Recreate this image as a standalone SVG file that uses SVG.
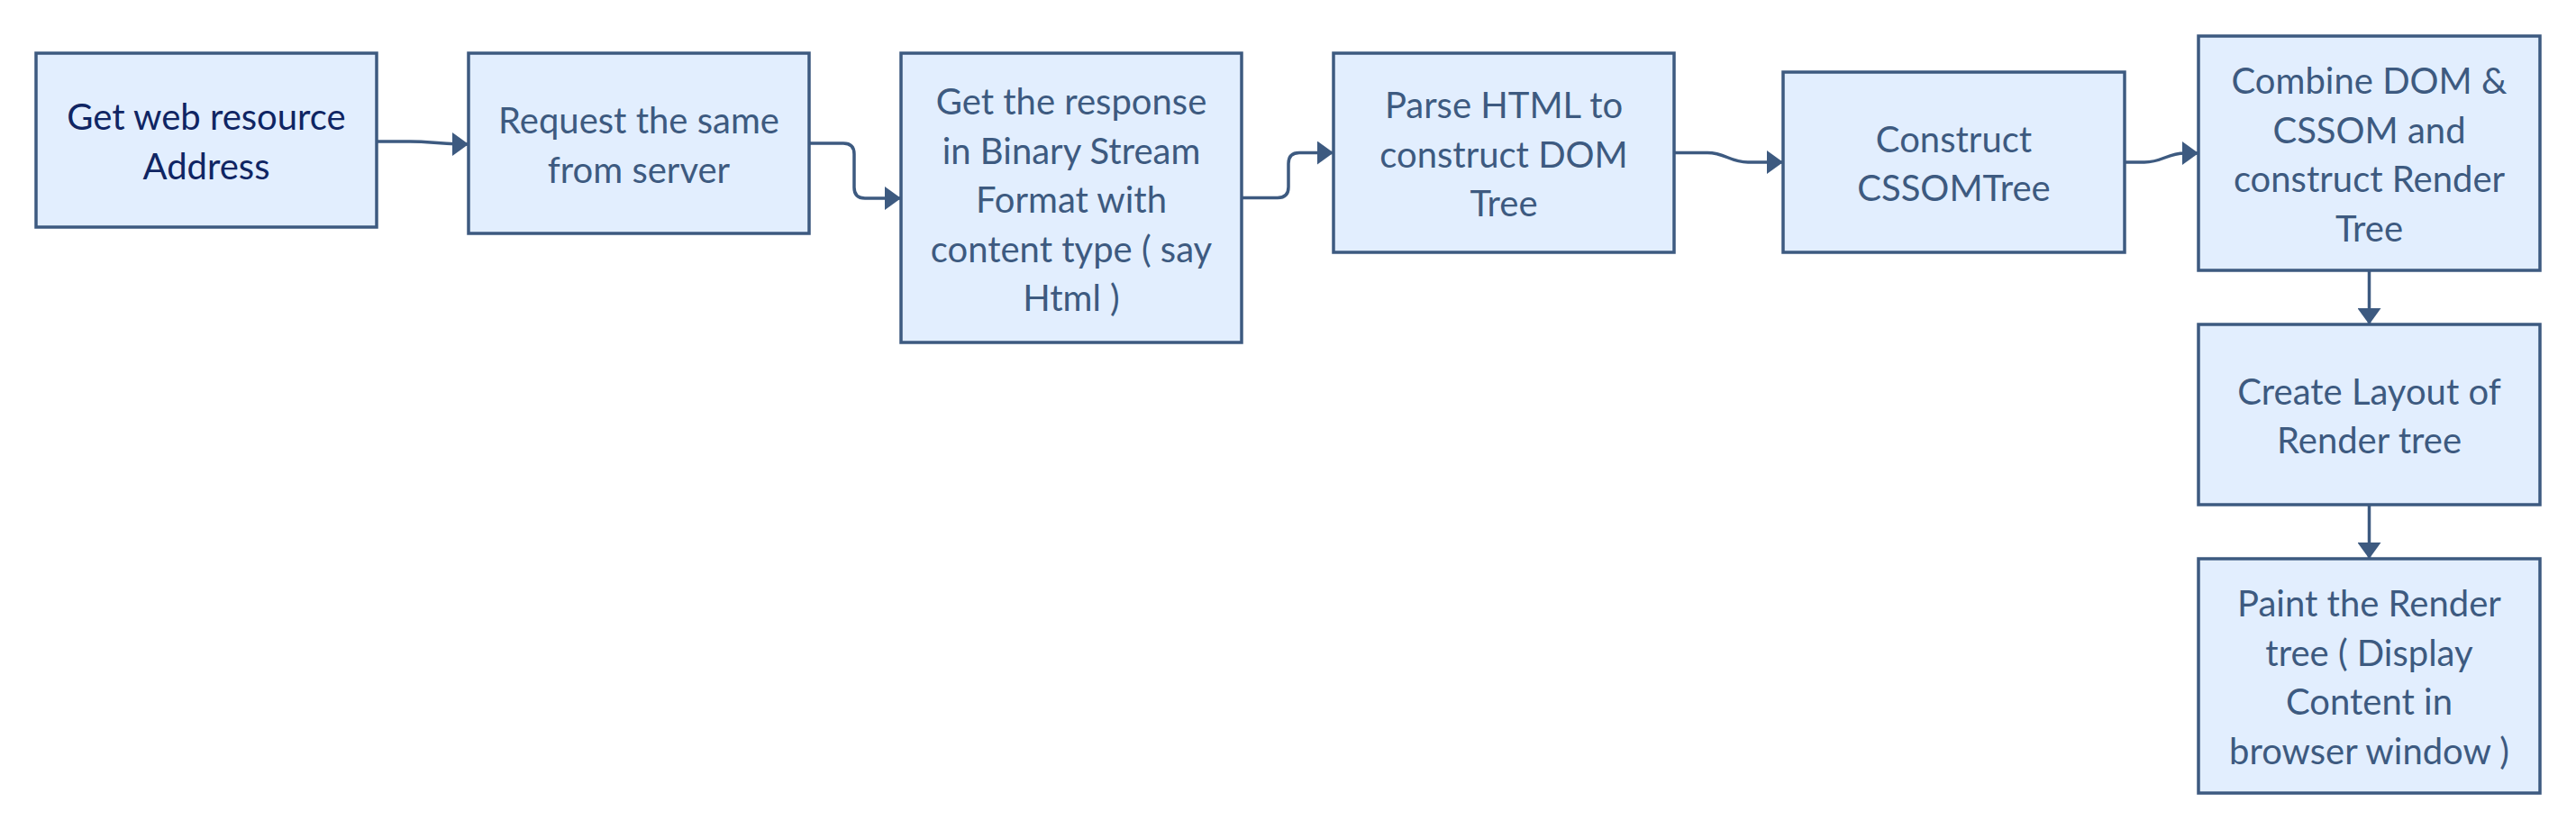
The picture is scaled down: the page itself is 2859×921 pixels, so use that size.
<svg xmlns="http://www.w3.org/2000/svg" width="2859" height="921" viewBox="0 0 2859 921">
<style>
.box{fill:#e2eefe;stroke:#3d5a80;stroke-width:3.5}
.t{font-family:Lato,"Open Sans","Liberation Sans",sans-serif;font-size:40px;fill:#3d5a80;text-anchor:middle}
.dark{fill:#0f2563}
.c{fill:none;stroke:#3d5a80;stroke-width:3.5}
</style>
<defs>
<marker id="arr" markerUnits="userSpaceOnUse" viewBox="0 0 18 26" refX="18" refY="13" markerWidth="18" markerHeight="26" orient="auto">
<path d="M0,0 L18,13 L0,26 z" fill="#3d5a80"/>
</marker>
</defs>
<rect width="2859" height="921" fill="#ffffff"/>
<g id="connectors">
<path class="c" marker-end="url(#arr)" d="M418,157 H455 C480,157 485,160 520,160"/>
<path class="c" marker-end="url(#arr)" d="M898,159 H936 Q948,159 948,171 V208 Q948,220 960,220 H1000"/>
<path class="c" marker-end="url(#arr)" d="M1378,219.5 H1418 Q1430,219.5 1430,207.5 V181.5 Q1430,169.5 1442,169.5 H1480"/>
<path class="c" marker-end="url(#arr)" d="M1858,169.5 H1895 C1915,169.5 1920,180 1940,180 H1979"/>
<path class="c" marker-end="url(#arr)" d="M2358,180 H2380 C2400,180 2405,170 2425,170 H2440"/>
<path class="c" marker-end="url(#arr)" d="M2629.5,300 V360"/>
<path class="c" marker-end="url(#arr)" d="M2629.5,560 V620"/>
</g>
<g id="n1">
<rect class="box" x="40" y="59" width="378" height="193"/>
<text class="t dark" x="229" y="144">Get web resource</text>
<text class="t dark" x="229" y="198.5">Address</text>
</g>
<g id="n2">
<rect class="box" x="520" y="59" width="378" height="200"/>
<text class="t" x="709" y="148">Request the same</text>
<text class="t" x="709" y="202.5">from server</text>
</g>
<g id="n3">
<rect class="box" x="1000" y="59" width="378" height="321"/>
<text class="t" x="1189" y="127">Get the response</text>
<text class="t" x="1189" y="181.5">in Binary Stream</text>
<text class="t" x="1189" y="236">Format with</text>
<text class="t" x="1189" y="290.5">content type ( say</text>
<text class="t" x="1189" y="345">Html )</text>
</g>
<g id="n4">
<rect class="box" x="1480" y="59" width="378" height="221"/>
<text class="t" x="1669" y="131">Parse HTML to</text>
<text class="t" x="1669" y="185.5">construct DOM</text>
<text class="t" x="1669" y="240">Tree</text>
</g>
<g id="n5">
<rect class="box" x="1979" y="80" width="379" height="200"/>
<text class="t" x="2168.5" y="168.5">Construct</text>
<text class="t" x="2168.5" y="223">CSSOMTree</text>
</g>
<g id="n6">
<rect class="box" x="2440" y="40" width="379" height="260"/>
<text class="t" x="2629.5" y="104">Combine DOM &amp;</text>
<text class="t" x="2629.5" y="158.5">CSSOM and</text>
<text class="t" x="2629.5" y="213">construct Render</text>
<text class="t" x="2629.5" y="267.5">Tree</text>
</g>
<g id="n7">
<rect class="box" x="2440" y="360" width="379" height="200"/>
<text class="t" x="2629.5" y="448.5">Create Layout of</text>
<text class="t" x="2629.5" y="503">Render tree</text>
</g>
<g id="n8">
<rect class="box" x="2440" y="620" width="379" height="260"/>
<text class="t" x="2629.5" y="684">Paint the Render</text>
<text class="t" x="2629.5" y="738.5">tree ( Display</text>
<text class="t" x="2629.5" y="793">Content in</text>
<text class="t" x="2629.5" y="847.5">browser window )</text>
</g>
</svg>
